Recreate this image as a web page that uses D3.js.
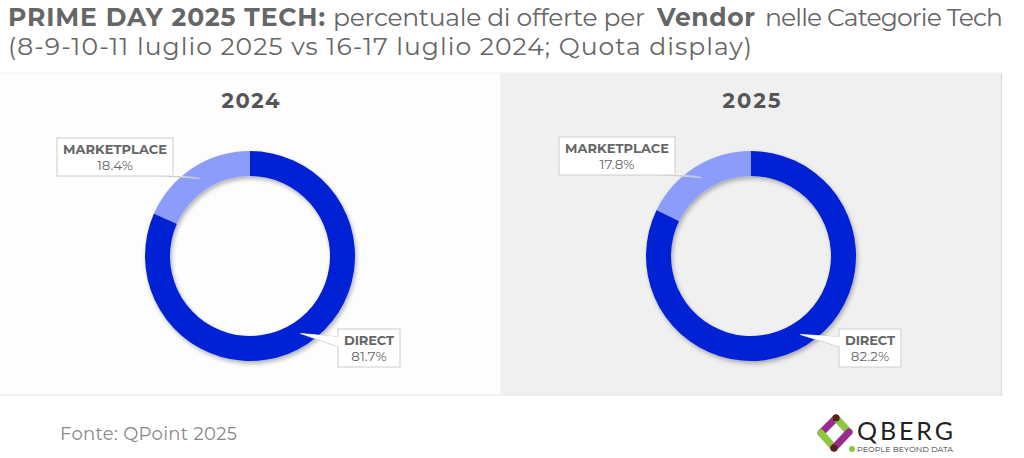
<!DOCTYPE html>
<html>
<head>
<meta charset="utf-8">
<script src="https://cdn.jsdelivr.net/npm/d3@7"></script>
<style>
  body { margin: 0; background: #fff; }
  svg { display: block; font-family: "Montserrat", "Noto Sans", "Open Sans", sans-serif; }
</style>
</head>
<body>
<div id="chart"></div>
<script>
// Chart data
var years = ["2024", "2025"];
var vendors = ["DIRECT", "MARKETPLACE"];
var shares2024 = [81.7, 18.4];
var shares2025 = [82.2, 17.8];
var allShares = [shares2024, shares2025];

var colors = { DIRECT: "#0423d4", MARKETPLACE: "#8b9cfb" };

var svgWidth = 1024;
var svgHeight = 458;

var svg = d3.select("#chart")
  .append("svg")
  .attr("width", svgWidth)
  .attr("height", svgHeight);

// drop shadow for the rings
var defs = svg.append("defs");
var shadow = defs.append("filter").attr("id", "shadow")
  .attr("x", "-20%").attr("y", "-20%").attr("width", "140%").attr("height", "140%");
shadow.append("feDropShadow")
  .attr("dx", 1.5).attr("dy", 2.5).attr("stdDeviation", 2)
  .attr("flood-color", "#000").attr("flood-opacity", 0.3);

// Title (pieces placed to follow the original's wide font)
var titleParts = [
  { text: "PRIME DAY 2025 TECH:", bold: true, x: 8, w: 317 },
  { text: "percentuale di offerte per", bold: false, x: 333, w: 312 },
  { text: "Vendor", bold: true, x: 657, w: 98 },
  { text: "nelle Categorie Tech", bold: false, x: 765, w: 238 }
];
svg.selectAll(".title")
  .data(titleParts)
  .enter()
  .append("text")
  .attr("class", "title")
  .attr("x", d => d.x).attr("y", 26)
  .attr("font-size", 25)
  .attr("font-weight", d => d.bold ? "bold" : "normal")
  .attr("fill", "#666")
  .attr("textLength", d => d.w)
  .attr("lengthAdjust", "spacing")
  .text(d => d.text);

svg.append("text")
  .attr("x", 8).attr("y", 55)
  .attr("font-size", 25)
  .attr("fill", "#666")
  .attr("textLength", 744)
  .attr("lengthAdjust", "spacing")
  .text("(8-9-10-11 luglio 2025 vs 16-17 luglio 2024; Quota display)");

// Panels
var panelX = d3.scaleBand().domain(years).range([0, 1002]);
var panelTop = 73, panelBottom = 395;

var panels = svg.selectAll(".panel")
  .data(years)
  .enter()
  .append("g")
  .attr("class", "panel")
  .attr("transform", d => `translate(${panelX(d)},0)`);

panels.append("rect")
  .attr("x", 0).attr("y", panelTop)
  .attr("width", panelX.bandwidth()).attr("height", panelBottom - panelTop)
  .attr("fill", (d, i) => i === 0 ? "#fdfdfd" : "#f0f0f0");

svg.append("line")
  .attr("x1", 0).attr("x2", 1002).attr("y1", panelTop).attr("y2", panelTop)
  .attr("stroke", "#f0f0f0");
svg.append("line")
  .attr("x1", 0).attr("x2", 1002).attr("y1", panelBottom).attr("y2", panelBottom)
  .attr("stroke", "#e4e4e4");
svg.append("line")
  .attr("x1", 1001.5).attr("x2", 1001.5).attr("y1", panelTop).attr("y2", panelBottom)
  .attr("stroke", "#d8d8d8");
svg.append("line")
  .attr("x1", 500.5).attr("x2", 500.5).attr("y1", panelTop).attr("y2", panelBottom)
  .attr("stroke", "#f4f4f4");

panels.append("text")
  .attr("x", panelX.bandwidth() / 2)
  .attr("y", 108)
  .attr("text-anchor", "middle")
  .attr("font-size", 21)
  .attr("font-weight", "bold")
  .attr("fill", "#555")
  .attr("textLength", 58)
  .text(d => d);

// Donuts
var cx = 250, cy = 256;
var outerR = 105, innerR = 80;

var pie = d3.pie().sort(null).value(d => d.value);
var arc = d3.arc().innerRadius(innerR).outerRadius(outerR);

panels.each(function(year, i) {
  var g = d3.select(this);
  var data = vendors.map((v, j) => ({ vendor: v, value: allShares[i][j] }));
  var arcs = pie(data);

  var ring = g.append("g")
    .attr("transform", `translate(${cx},${cy})`)
    .attr("filter", "url(#shadow)");
  ring.selectAll("path")
    .data(arcs)
    .enter()
    .append("path")
    .attr("d", arc)
    .attr("fill", d => colors[d.data.vendor]);

  // callout labels
  arcs.forEach(function(a) {
    var mid = (a.startAngle + a.endAngle) / 2;
    var tipR = (innerR + outerR) / 2;
    var tip = [cx + Math.sin(mid) * tipR, cy - Math.cos(mid) * tipR];
    var isDirect = a.data.vendor === "DIRECT";
    var w = isDirect ? 62 : 116, h = 38;
    var bx, by;
    if (isDirect) { bx = cx + 88; by = cy + 73; }
    else { bx = cx - 193 + (i === 0 ? 0 : 1); by = cy - 118 - (i === 0 ? 0 : 1); }

    var lbl = g.append("g");
    var pts;
    if (isDirect) {
      pts = [[bx + 1, by + 8], tip, [bx + 1, by + 18]];
    } else {
      pts = [[bx + w - 22, by + h - 1], tip, [bx + w - 10, by + h - 1]];
    }
    lbl.append("path")
      .attr("d", d3.line()(pts))
      .attr("fill", "#fff")
      .attr("stroke", "#ccc");
    lbl.append("rect")
      .attr("x", bx).attr("y", by)
      .attr("width", w).attr("height", h)
      .attr("fill", "#fff")
      .attr("stroke", "#ccc");
    lbl.append("path")
      .attr("d", d3.line()(pts))
      .attr("fill", "#fff")
      .attr("stroke", "none")
      .attr("transform", isDirect ? "translate(1,0)" : "translate(0,-1)");
    lbl.append("text")
      .attr("x", bx + w / 2).attr("y", by + 16)
      .attr("text-anchor", "middle")
      .attr("font-size", 13)
      .attr("font-weight", "bold")
      .attr("fill", "#666")
      .attr("textLength", isDirect ? 50 : 104)
      .text(a.data.vendor);
    lbl.append("text")
      .attr("x", bx + w / 2).attr("y", by + 32)
      .attr("text-anchor", "middle")
      .attr("font-size", 13.5)
      .attr("fill", "#666")
      .text(d3.format(".1f")(a.data.value) + "%");
  });
});

// Footer
svg.append("text")
  .attr("x", 60).attr("y", 440)
  .attr("font-size", 18)
  .attr("fill", "#888")
  .attr("textLength", 177)
  .text("Fonte: QPoint 2025");

// Logo
var logo = svg.append("g").attr("transform", "translate(812,410)");
logo.append("rect").attr("x", 0).attr("y", 0).attr("width", 144).attr("height", 46).attr("fill", "#fff");
var bar = (x1, y1, x2, y2, c) => logo.append("line")
  .attr("x1", x1).attr("y1", y1).attr("x2", x2).attr("y2", y2)
  .attr("stroke", c).attr("stroke-width", 7).attr("stroke-linecap", "round");
bar(24, 8, 9, 23, "#9b2a8e");
bar(9, 23, 22, 38, "#8dc63f");
bar(24, 8, 37, 22, "#8dc63f");
bar(37, 22, 22, 38, "#9b2a8e");
logo.append("circle").attr("cx", 24).attr("cy", 8).attr("r", 3.6).attr("fill", "#5a1f1f");
logo.append("circle").attr("cx", 22).attr("cy", 38).attr("r", 3.6).attr("fill", "#5a1f1f");
logo.append("circle").attr("cx", 40).attr("cy", 39).attr("r", 3).attr("fill", "#8dc63f");
logo.append("text").attr("x", 45).attr("y", 30)
  .attr("font-size", 25).attr("font-family", "Lato, sans-serif").attr("fill", "#222")
  .attr("textLength", 96)
  .text("QBERG");
logo.append("text").attr("x", 45).attr("y", 42)
  .attr("font-size", 8).attr("fill", "#333")
  .attr("textLength", 96)
  .text("PEOPLE BEYOND DATA");
</script>
</body>
</html>
